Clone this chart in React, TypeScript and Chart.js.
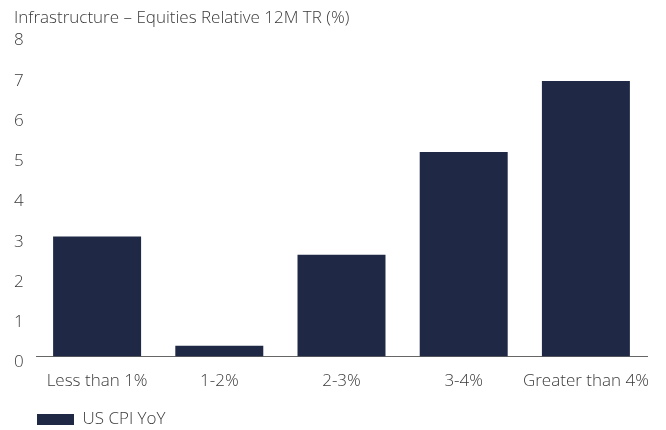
import React, { useEffect, useRef } from "react";
import { Chart, registerables } from "chart.js";

Chart.register(...registerables);

const categories = ["Less than 1%", "1-2%", "2-3%", "3-4%", "Greater than 4%"];
const values = [2.98, 0.27, 2.53, 5.08, 6.84];
const seriesLabel = "US CPI YoY";
const titleText = "Infrastructure \u2013 Equities Relative 12M TR (%)";
const yMin = 0;
const yMax = 8;

const FONT = "'Open Sans', 'Noto Sans', sans-serif";
const TEXT = "#3a3a3a";
const NAVY = "#1f2945";

const legendShift = {
  id: "legendShift",
  afterLayout(chart: any) {
    const lg = chart.legend;
    if (lg) {
      lg.left += 21;
      lg.right += 21;
      lg.top += 8;
      lg.bottom += 8;
      if (lg.adjustHitBoxes) lg.adjustHitBoxes();
    }
  },
};

export default function App() {
  const ref = useRef<HTMLCanvasElement | null>(null);
  useEffect(() => {
    if (!ref.current) return;
    const chart = new Chart(ref.current, {
      type: "bar",
      data: {
        labels: categories,
        datasets: [
          {
            label: seriesLabel,
            data: values,
            backgroundColor: NAVY,
            borderWidth: 0,
            categoryPercentage: 0.72,
            barPercentage: 1.0,
          },
        ],
      },
      plugins: [legendShift],
      options: {
        animation: false,
        responsive: false,
        maintainAspectRatio: false,
        layout: { padding: { left: 14, right: 19, top: 8, bottom: 0 } },
        plugins: {
          title: {
            display: true,
            text: titleText,
            align: "start",
            color: TEXT,
            font: { family: FONT, size: 17, weight: 300 },
            padding: { top: 0, bottom: 6 },
          },
          legend: {
            display: true,
            position: "bottom",
            align: "start",
            labels: {
              boxWidth: 37,
              boxHeight: 11,
              color: TEXT,
              font: { family: FONT, size: 17, weight: 300 },
              padding: 2,
            },
          },
          tooltip: { enabled: false },
        },
        scales: {
          x: {
            grid: { display: false, drawTicks: false },
            border: { display: true, color: "#666", width: 1 },
            ticks: {
              color: TEXT,
              font: { family: FONT, size: 17, weight: 300 },
              padding: 14,
              maxRotation: 0,
              autoSkip: false,
            },
            afterFit: (scale: any) => {
              scale.height -= 4;
            },
          },
          y: {
            min: yMin,
            max: yMax,
            grid: { display: false, drawTicks: false },
            border: { display: false },
            ticks: {
              stepSize: 1,
              color: TEXT,
              font: { family: FONT, size: 17, weight: 300 },
              crossAlign: "far",
              padding: 0,
              labelOffset: 6,
            },
            afterFit: (scale: any) => {
              scale.width = 22;
            },
          },
        },
      },
    });
    return () => chart.destroy();
  }, []);
  return (
    <div style={{ position: "absolute", left: 0, top: 0, width: 666, height: 430, background: "#fff" }}>
      <canvas ref={ref} width={666} height={430} style={{ width: 666, height: 430 }} />
    </div>
  );
}
